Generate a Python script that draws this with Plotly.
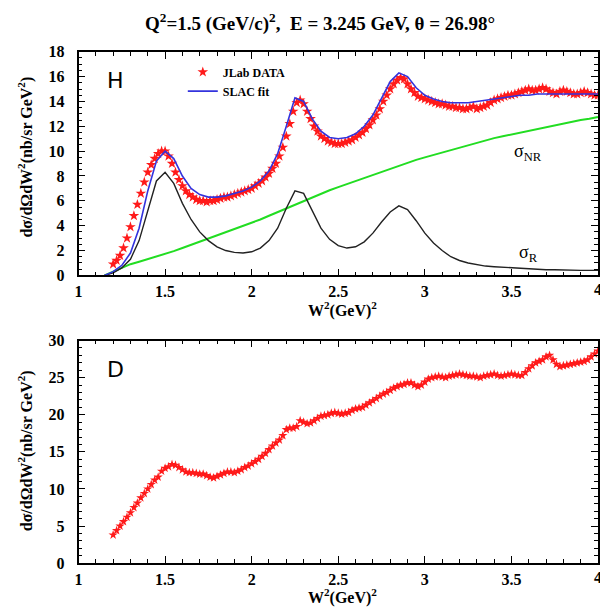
import plotly.graph_objects as go

# ---------------- Data ----------------
# Top panel (H): JLab data, W^2 from 1.20 to 4.00 every 0.02
h_data_y = [0.9, 1.2, 1.6, 2.2, 3.0, 3.9, 4.8, 5.7, 6.6, 7.5,
            8.3, 8.9, 9.4, 9.8, 10.0, 10.0, 9.6, 9.0, 8.3, 7.7,
            7.2, 6.8, 6.5, 6.3, 6.1, 6.0, 6.0, 5.9, 6.0, 6.0,
            6.1, 6.2, 6.3, 6.3, 6.4, 6.5, 6.6, 6.7, 6.8, 6.9,
            7.0, 7.2, 7.4, 7.6, 7.9, 8.2, 8.6, 9.0, 9.6, 10.3,
            11.2, 12.2, 13.2, 13.9, 14.1, 13.8, 13.2, 12.6, 12.0, 11.6,
            11.2, 11.0, 10.8, 10.7, 10.6, 10.6, 10.6, 10.7, 10.8, 10.9,
            11.1, 11.3, 11.5, 11.8, 12.1, 12.5, 12.9, 13.4, 14.0, 14.5,
            15.0, 15.4, 15.7, 15.9, 15.8, 15.4, 15.0, 14.7, 14.4, 14.3,
            14.2, 14.1, 14.0, 13.9, 13.8, 13.8, 13.7, 13.6, 13.6, 13.5,
            13.5, 13.4, 13.4, 13.5, 13.6, 13.4, 13.5, 13.6, 13.7, 13.9,
            14.1, 14.2, 14.3, 14.4, 14.5, 14.5, 14.6, 14.7, 14.8, 14.9,
            15.0, 14.9, 14.9, 15.0, 15.1, 15.0, 14.8, 14.7, 14.6, 14.8,
            14.9, 14.8, 14.7, 14.6, 14.6, 14.7, 14.8, 14.7, 14.6, 14.5,
            14.5]
h_data_x = [round(1.20 + 0.02 * i, 2) for i in range(len(h_data_y))]

# Curves (common x grid)
curve_x = [1.15, 1.20, 1.25, 1.30, 1.35, 1.40, 1.45, 1.50, 1.55, 1.60, 1.65, 1.70, 1.75, 1.80, 1.85,
           1.90, 1.95, 2.00, 2.05, 2.10, 2.15, 2.20, 2.25, 2.30, 2.35, 2.40, 2.45, 2.50, 2.55, 2.60,
           2.65, 2.70, 2.75, 2.80, 2.85, 2.90, 2.95, 3.00, 3.05, 3.10, 3.15, 3.20, 3.25, 3.30, 3.35,
           3.40, 3.45, 3.50, 3.55, 3.60, 3.65, 3.70, 3.75, 3.80, 3.85, 3.90, 3.95, 4.00]
slac_fit = [0.0, 0.3, 0.8, 1.8, 3.8, 6.8, 9.2, 10.0, 9.4, 8.0, 7.0, 6.5, 6.3, 6.3, 6.4,
            6.6, 6.8, 7.1, 7.6, 8.4, 9.8, 12.0, 14.3, 14.0, 12.6, 11.6, 11.1, 11.0, 11.1, 11.4,
            12.0, 12.9, 14.3, 15.6, 16.3, 16.0, 15.1, 14.5, 14.2, 14.0, 13.9, 13.9, 13.9, 14.0, 14.1,
            14.2, 14.3, 14.4, 14.5, 14.5, 14.6, 14.6, 14.6, 14.6, 14.6, 14.6, 14.6, 14.6]
sigma_r = [0.0, 0.2, 0.6, 1.3, 2.8, 5.2, 7.6, 8.3, 7.4, 5.8, 4.5, 3.5, 2.8, 2.3, 2.0,
           1.85, 1.8, 1.9, 2.2, 2.8, 3.8, 5.4, 6.8, 6.6, 5.2, 3.8, 2.9, 2.4, 2.2, 2.3,
           2.7, 3.4, 4.3, 5.1, 5.6, 5.3, 4.4, 3.4, 2.6, 2.0, 1.5, 1.2, 1.0, 0.85, 0.75,
           0.7, 0.65, 0.6, 0.55, 0.5, 0.5, 0.45, 0.45, 0.42, 0.4, 0.4, 0.4, 0.4]
sigma_nr = [0.0, 0.3, 0.6, 0.9, 1.1, 1.3, 1.5, 1.7, 1.95, 2.2, 2.45, 2.7, 2.95, 3.2, 3.45,
            3.7, 3.95, 4.2, 4.5, 4.8, 5.1, 5.4, 5.7, 6.0, 6.3, 6.6, 6.85, 7.1, 7.35, 7.6,
            7.85, 8.1, 8.35, 8.6, 8.85, 9.1, 9.3, 9.5, 9.7, 9.9, 10.1, 10.3, 10.5, 10.7, 10.9,
            11.05, 11.2, 11.35, 11.5, 11.65, 11.8, 11.95, 12.1, 12.25, 12.4, 12.5, 12.6, 12.75]

# Bottom panel (D): JLab data, W^2 from 1.20 to 4.00 every 0.02
d_data_y = [3.8, 4.4, 5.0, 5.6, 6.2, 6.8, 7.5, 8.1, 8.8, 9.4,
            10.0, 10.6, 11.2, 11.6, 12.4, 12.8, 13.0, 13.3, 13.2, 12.9,
            12.6, 12.3, 12.2, 12.2, 12.1, 12.0, 12.0, 11.8, 11.6, 11.5,
            11.7, 11.9, 12.1, 12.3, 12.3, 12.2, 12.4, 12.6, 12.9, 13.1,
            13.4, 13.7, 14.0, 14.4, 14.8, 15.3, 15.8, 16.2, 16.6, 17.2,
            18.0, 18.2, 18.2, 18.4, 19.2, 19.0, 18.8, 18.9, 19.2, 19.5,
            19.8, 19.9, 20.0, 20.2, 20.3, 20.2, 20.1, 20.2, 20.3, 20.6,
            20.8, 20.9, 21.0, 21.3, 21.6, 21.9, 22.2, 22.5, 22.8, 23.0,
            23.3, 23.6, 23.8, 24.0, 24.1, 24.3, 24.3, 24.0, 23.8, 24.0,
            24.4, 24.8, 25.0, 25.1, 25.2, 25.1, 25.0, 25.2, 25.3, 25.4,
            25.5, 25.4, 25.3, 25.2, 25.2, 25.1, 25.0, 25.2, 25.3, 25.4,
            25.5, 25.3, 25.2, 25.3, 25.4, 25.5, 25.4, 25.3, 25.3, 25.7,
            26.2, 26.6, 27.0, 27.2, 27.4, 27.8, 28.0, 27.4, 26.8, 26.5,
            26.6, 26.7, 26.8, 26.9, 27.0, 27.1, 27.2, 27.4, 27.8, 28.2,
            28.6]
d_data_x = [round(1.20 + 0.02 * i, 2) for i in range(len(d_data_y))]

x_ticks = [1, 1.5, 2, 2.5, 3, 3.5, 4]
x_ticklabels = ["1", "1.5", "2", "2.5", "3", "3.5", "4"]
h_yticks = [0, 2, 4, 6, 8, 10, 12, 14, 16, 18]
d_yticks = [0, 5, 10, 15, 20, 25, 30]

# ---------------- Figure ----------------
W, H = 600, 614
FONT = "Liberation Serif"
RED = "#ff1a1a"

fig = go.Figure()

fig.add_trace(go.Scatter(x=curve_x, y=sigma_nr, mode="lines", line=dict(color="#22dd22", width=2),
                         showlegend=False, xaxis="x", yaxis="y"))
fig.add_trace(go.Scatter(x=curve_x, y=sigma_r, mode="lines", line=dict(color="#222222", width=1.4),
                         showlegend=False, xaxis="x", yaxis="y"))
fig.add_trace(go.Scatter(x=h_data_x, y=h_data_y, mode="markers", name="JLab DATA",
                         marker=dict(symbol="star", size=8, color=RED, line=dict(width=0)),
                         xaxis="x", yaxis="y"))
fig.add_trace(go.Scatter(x=curve_x, y=slac_fit, mode="lines", name="SLAC fit",
                         line=dict(color="#3333dd", width=1.6), xaxis="x", yaxis="y"))

fig.add_trace(go.Scatter(x=d_data_x, y=d_data_y, mode="markers", showlegend=False,
                         marker=dict(symbol="star", size=7, color=RED, line=dict(width=0)),
                         xaxis="x2", yaxis="y2"))

xl, xr = 75 / W, 598 / W
def py(p):
    return 1 - p / H

axis_common = dict(
    showline=True, linecolor="black", linewidth=1.5, mirror="allticks",
    ticks="inside", ticklen=7, tickwidth=1.2, tickcolor="black",
    showgrid=False, zeroline=False,
    tickfont=dict(family=FONT, size=16, color="black", weight="bold"),
)

fig.update_layout(
    width=W, height=H,
    margin=dict(l=0, r=0, t=0, b=0),
    paper_bgcolor="white", plot_bgcolor="white",
    xaxis=dict(domain=[xl, xr], range=[1, 4], tickvals=x_ticks, ticktext=x_ticklabels,
               minor=dict(dtick=0.1, ticks="inside", ticklen=4, tickcolor="black"),
               anchor="y", ticklabelstandoff=1, **axis_common),
    yaxis=dict(domain=[py(275), py(45)], range=[0, 18], tickvals=h_yticks,
               minor=dict(dtick=0.5, ticks="inside", ticklen=4, tickcolor="black"),
               anchor="x", ticklabelstandoff=9, **axis_common),
    xaxis2=dict(domain=[xl, xr], range=[1, 4], tickvals=x_ticks, ticktext=x_ticklabels,
                minor=dict(dtick=0.1, ticks="inside", ticklen=4, tickcolor="black"),
                anchor="y2", ticklabelstandoff=1, **axis_common),
    yaxis2=dict(domain=[py(571), py(342)], range=[0, 30], tickvals=d_yticks,
                minor=dict(dtick=1, ticks="inside", ticklen=4, tickcolor="black"),
                anchor="x2", ticklabelstandoff=9, **axis_common),
    legend=dict(x=0.30, y=py(51), xanchor="left", yanchor="top",
                bgcolor="rgba(0,0,0,0)", font=dict(family=FONT, size=12, color="black", weight="bold"),
                tracegroupgap=0, itemwidth=30),
    showlegend=True,
)

ann = []
def txt(x, y, s, size=15, bold=True, angle=0, family=FONT, xanchor="center"):
    ann.append(dict(x=x / W, y=py(y), xref="paper", yref="paper", text=("<b>%s</b>" % s) if bold else s,
                    showarrow=False, font=dict(family=family, size=size, color="black"),
                    textangle=angle, xanchor=xanchor, yanchor="middle"))

txt(318, 15, "Q<sup>2</sup>=1.5 (GeV/c)<sup>2</sup>,  E = 3.245 GeV, θ = 26.98°", size=19)
txt(341, 310, "W<sup>2</sup>(GeV)<sup>2</sup>", size=16)
txt(341, 605, "W<sup>2</sup>(GeV)<sup>2</sup>", size=16)
txt(22, 153, "dσ/dΩdW<sup>2</sup>(nb/sr GeV<sup>2</sup>)", size=16, angle=-90)
txt(22, 455, "dσ/dΩdW<sup>2</sup>(nb/sr GeV<sup>2</sup>)", size=16, angle=-90)
txt(112, 75, "H", size=22, bold=False, family="DejaVu Sans")
txt(112, 372, "D", size=22, bold=False, family="DejaVu Sans")
txt(528, 149, "σ<sub>NR</sub>", size=18, bold=False)
txt(528, 252, "σ<sub>R</sub>", size=18, bold=False)

# tick label "4" at the right edge (partly cut off, as in the reference)
for yy in (290, 586):
    ann.append(dict(x=4, xref="x", y=py(yy), yref="paper", text="<b>4</b>", showarrow=False,
                    font=dict(family=FONT, size=16, color="black"), xanchor="center", yanchor="middle"))

fig.update_layout(annotations=ann)
fig.write_html("out.html")
